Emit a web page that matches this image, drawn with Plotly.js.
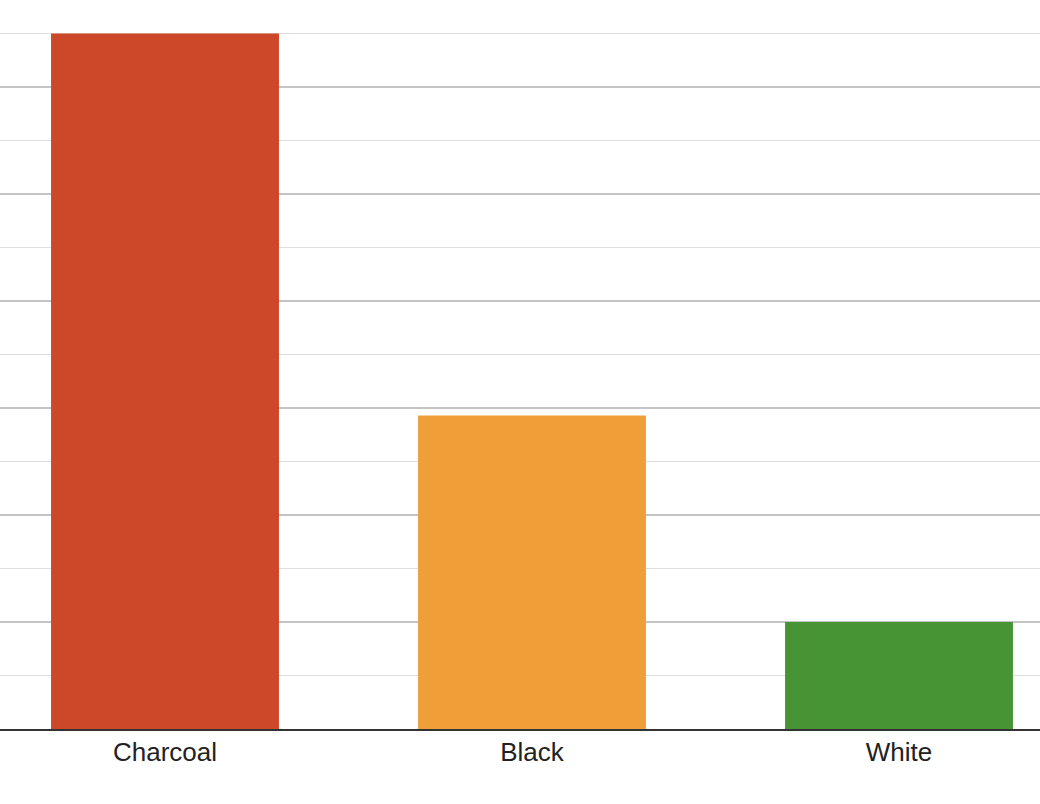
<!DOCTYPE html>
<html>
<head>
<meta charset="utf-8">
<script src="https://cdn.plot.ly/plotly-3.0.1.min.js"></script>
<style>html,body{margin:0;padding:0;background:#fff;}#chart{width:1040px;height:804px;}</style>
</head>
<body>
<div id="chart"></div>
<script>
var categories = ["Charcoal", "Black", "White"];
var values = [6.5, 2.93, 1];
var barColors = ["#CC4828", "#F09F38", "#469433"];

var trace = {
  type: "bar",
  x: categories,
  y: values,
  width: 0.621,
  marker: {color: barColors, line: {width: 0}},
  hoverinfo: "x+y"
};

var layout = {
  width: 1040,
  height: 804,
  margin: {l: 0, r: 0, t: 0, b: 75, pad: 0},
  paper_bgcolor: "#ffffff",
  plot_bgcolor: "#ffffff",
  showlegend: false,
  font: {family: "Liberation Sans, Arial, sans-serif", color: "#222222"},
  xaxis: {
    type: "category",
    range: [-0.4496, 2.3842],
    showgrid: false,
    zeroline: false,
    showline: true,
    linecolor: "#333333",
    linewidth: 1.6,
    ticks: "",
    tickfont: {size: 26, color: "#222222"},
    ticklabelstandoff: -1,
    fixedrange: true
  },
  yaxis: {
    range: [0, 6.813],
    dtick: 1,
    tick0: 0,
    showgrid: true,
    gridcolor: "#c4c4c4",
    gridwidth: 1.4,
    zeroline: false,
    showticklabels: false,
    ticks: "",
    minor: {dtick: 0.5, tick0: 0, showgrid: true, gridcolor: "#dedede", gridwidth: 1.4},
    fixedrange: true
  },
  bargap: 0.38
};

Plotly.newPlot("chart", [trace], layout, {displayModeBar: false, staticPlot: true});
</script>
</body>
</html>
